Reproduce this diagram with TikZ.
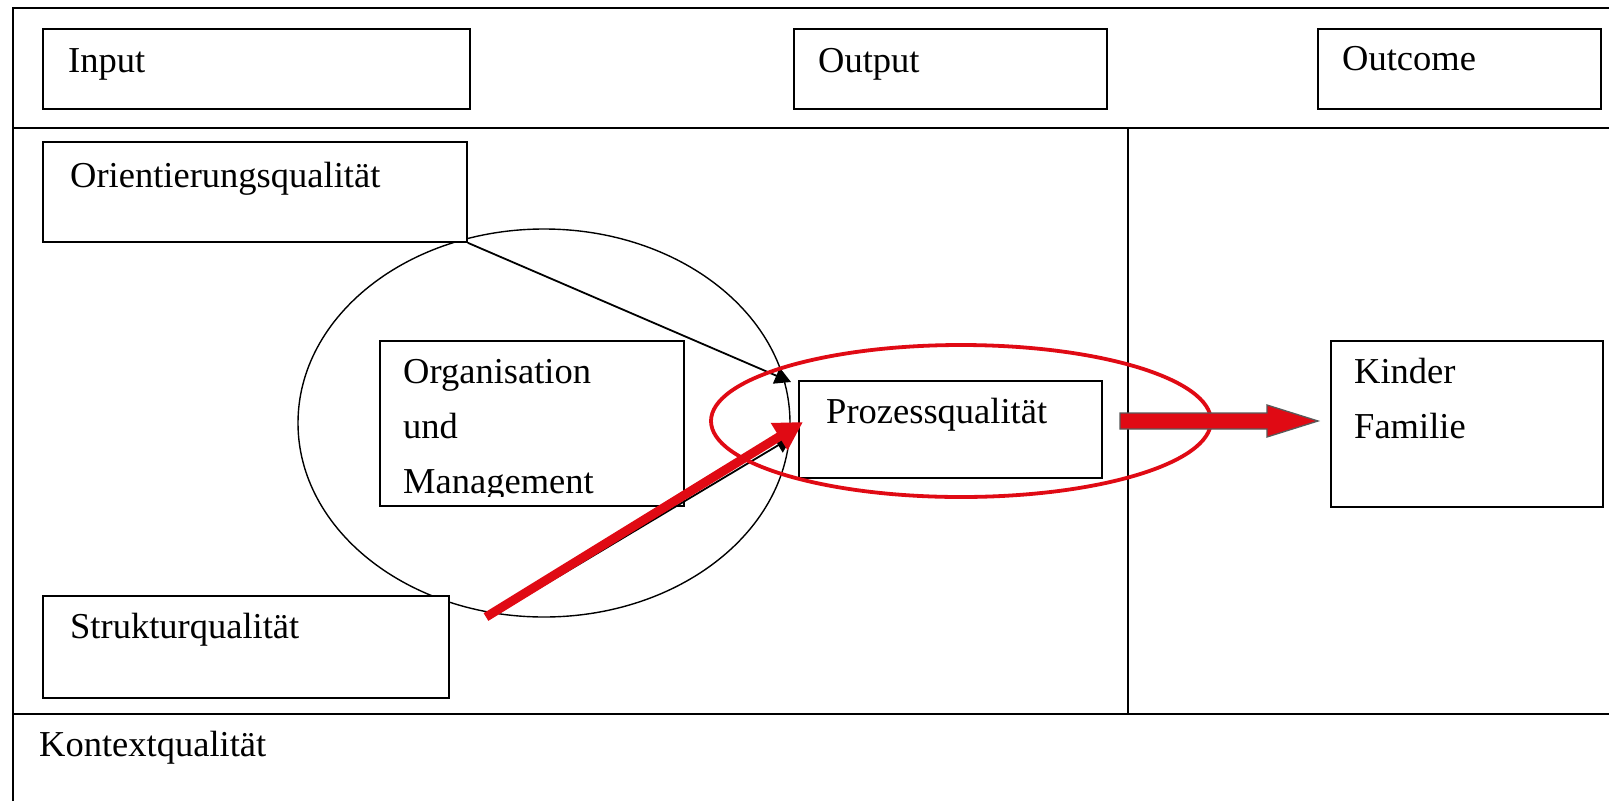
\documentclass[tikz,border=0pt]{standalone}
\usepackage{fontspec}
\setmainfont{Liberation Serif}
\usetikzlibrary{arrows.meta,shapes.geometric}
\definecolor{dred}{RGB}{224,10,20}
\tikzset{
  frame/.style={line width=1.8pt,black},
  qbox/.style={draw,line width=1.8pt,rectangle,inner sep=0pt,anchor=north west},
  lbl/.style={anchor=base west,inner sep=0pt,font=\fontsize{36.5}{44}\selectfont},
  blk/.style={line width=1.8pt,black,-{Triangle[length=16pt,width=17pt]}},
  redarr/.style={line width=9pt,dred,-{Triangle[length=28pt,width=30pt]}},
  blockarr/.style={draw=black!65,line width=1.3pt,fill=dred,line join=miter},
}
\begin{document}
\begin{tikzpicture}[x=1pt,y=-1pt]
\useasboundingbox (0,0) rectangle (1609,801);
\fill[white] (0,0) rectangle (1609,801);
% frame
\draw[frame] (13,801) -- (13,8) -- (1609,8);
\draw[frame] (13,128) -- (1609,128);
\draw[frame] (13,714) -- (1609,714);
\draw[frame] (1128,128) -- (1128,714);
% header boxes
\node[qbox,minimum width=427pt,minimum height=80pt] (inp) at (42,28) {};
\node[qbox,minimum width=313pt,minimum height=80pt] (outp) at (793,28) {};
\node[qbox,minimum width=283pt,minimum height=80pt] (outc) at (1317,28) {};
\node[lbl] (tinp) at (68,72) {Input};
\node[lbl] (toutp) at (818,72) {Output};
\node[lbl] (toutc) at (1342,70) {Outcome};
% ellipse
\node[draw,line width=1.4pt,ellipse,minimum width=492pt,minimum height=388pt,inner sep=0pt] (ell) at (544,423) {};
% quality boxes
\node[qbox,fill=white,minimum width=424pt,minimum height=100pt] (orient) at (42,141) {};
\node[lbl] (torient) at (70,187) {Orientierungsqualität};
\node[qbox,fill=white,minimum width=406pt,minimum height=102pt] (struk) at (42,595) {};
\node[lbl] (tstruk) at (70,638) {Strukturqualität};
\node[qbox,minimum width=304pt,minimum height=165pt] (orga) at (379,340) {};
\node[lbl] (torga1) at (403,383) {Organisation};
\node[lbl] (torga2) at (403,438) {und};
\begin{scope}
\clip (380,400) rectangle (682,496);
\node[lbl] (torga3) at (403,493) {Management};
\end{scope}
\node[qbox,minimum width=303pt,minimum height=97pt] (proz) at (798,380) {};
\node[lbl] (tproz) at (826,423) {Prozessqualität};
\node[qbox,minimum width=272pt,minimum height=166pt] (kind) at (1330,340) {};
\node[lbl] (tkind1) at (1354,383) {Kinder};
\node[lbl] (tkind2) at (1354,438) {Familie};
\node[lbl] (tkont) at (39,756) {Kontextqualität};
% black arrows
\coordinate (bt1) at (791,382);
\draw[blk] (orient.south east) -- (bt1);
\coordinate (bs2) at (489,618);
\coordinate (bt2) at (792,437);
\draw[blk] (bs2) -- (bt2);
% red ellipse
\node[draw=dred,line width=3.8pt,ellipse,minimum width=500pt,minimum height=152pt,inner sep=0pt] (rell) at (961,421) {};
% red arrow
\coordinate (rs) at (486,617);
\coordinate (rt) at (803,422);
\draw[redarr] (rs) -- (rt);
% big block arrow
\draw[blockarr] (1120,413) -- (1267,413) -- (1267,405) -- (1318,421) -- (1267,437) -- (1267,429) -- (1120,429) -- cycle;
\end{tikzpicture}
\end{document}
